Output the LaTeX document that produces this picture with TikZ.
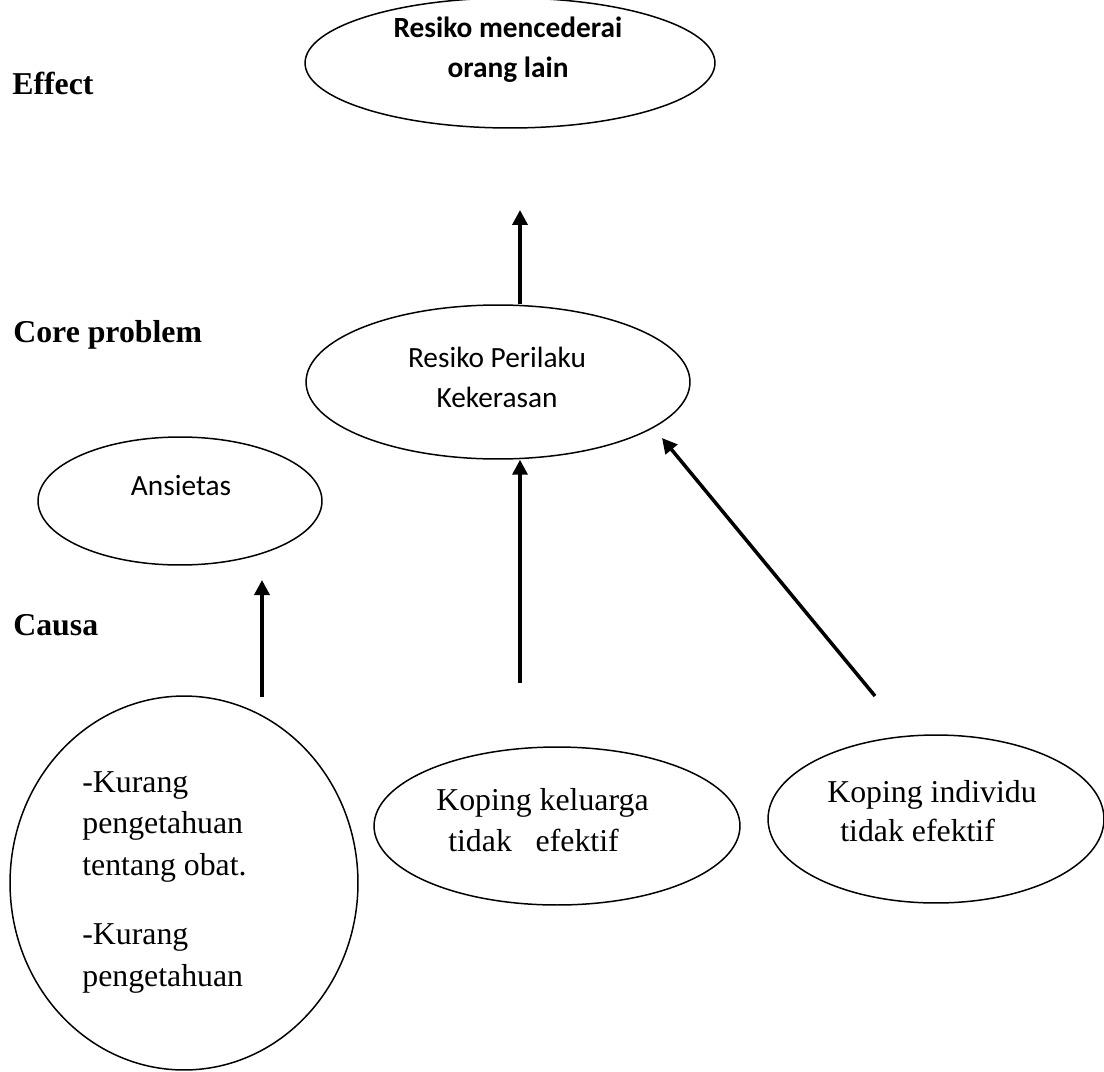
\documentclass[tikz,border=0pt]{standalone}
\usepackage{fontspec}
\setmainfont{Liberation Serif}
\newfontfamily\carlito{Carlito}
\usetikzlibrary{arrows.meta,shapes.geometric}
\newcommand\cstack[2]{\vtop{\baselineskip=#1\halign{\hfil##\hfil\cr#2\crcr}}}
\begin{document}
\begin{tikzpicture}[x=0.02cm,y=-0.02cm,
  ell/.style={draw,ellipse,line width=0.85pt,inner sep=0pt},
  lbl/.style={anchor=base west,inner sep=0pt,font=\fontsize{18.1}{23.8}\selectfont\bfseries},
  sertxt/.style={anchor=base west,inner sep=0pt,font=\fontsize{18.1}{23.8}\selectfont},
  santxt/.style={anchor=base,inner sep=0pt,font=\carlito\fontsize{16.7}{22.7}\selectfont},
  arr/.style={line width=2pt,-{Triangle[length=0.3cm,width=0.3cm]}}]
\useasboundingbox (0,0) rectangle (1104,1071);
% ellipses
\node[ell,minimum width=8.2cm,minimum height=2.6cm] (eff) at (510,63) {};
\node[ell,minimum width=7.68cm,minimum height=3.08cm] (rpk) at (498,382) {};
\node[ell,minimum width=5.68cm,minimum height=2.56cm] (ans) at (180,501) {};
\node[ell,minimum width=6.96cm,minimum height=7.48cm] (kp) at (184,883) {};
\node[ell,minimum width=7.32cm,minimum height=3.16cm] (kk) at (557,826) {};
\node[ell,minimum width=6.72cm,minimum height=3.36cm] (ki) at (936,819) {};
% texts
\node[santxt,font=\carlito\bfseries\fontsize{16.7}{22.7}\selectfont] (efft) at (508,38) {\cstack{22.7pt}{Resiko mencederai\cr orang lain}};
\node[santxt] (rpkt) at (497,367) {\cstack{23.2pt}{Resiko Perilaku\cr Kekerasan}};
\node[santxt] (anst) at (181,495) {Ansietas};
\node[sertxt] (kpt) at (82,792) {\vtop{\baselineskip=23.8pt\hbox{-Kurang}\hbox{pengetahuan}\hbox{tentang obat.}\vskip 15.5pt\hbox{-Kurang}\hbox{pengetahuan}}};
\node[sertxt] (kkt) at (436,810) {\vtop{\baselineskip=23.8pt\hbox{Koping keluarga}\hbox{\hspace{6.8pt}tidak\ \ \ efektif}}};
\node[sertxt] (kit) at (827,802) {\vtop{\baselineskip=22.7pt\hbox{Koping individu}\hbox{\hspace{7.4pt}tidak efektif}}};
% level labels
\node[lbl] (l1) at (12,95) {Effect};
\node[lbl] (l2) at (13,342) {Core problem};
\node[lbl] (l3) at (13,635) {Causa};
% connectors
\coordinate (a1e) at (520,210);
\coordinate (a2s) at (262,697);
\coordinate (a2e) at (262,580);
\coordinate (a3s) at (520,683);
\coordinate (a4s) at (875,696);
\coordinate (a4e) at (662,438);
\draw[arr] (rpk.north -| a1e) -- (a1e);
\draw[arr] (a2s) -- (a2e);
\draw[arr] (a3s) -- (a3s |- rpk.south);
\draw[arr] (a4s) -- (a4e);
\end{tikzpicture}
\end{document}
